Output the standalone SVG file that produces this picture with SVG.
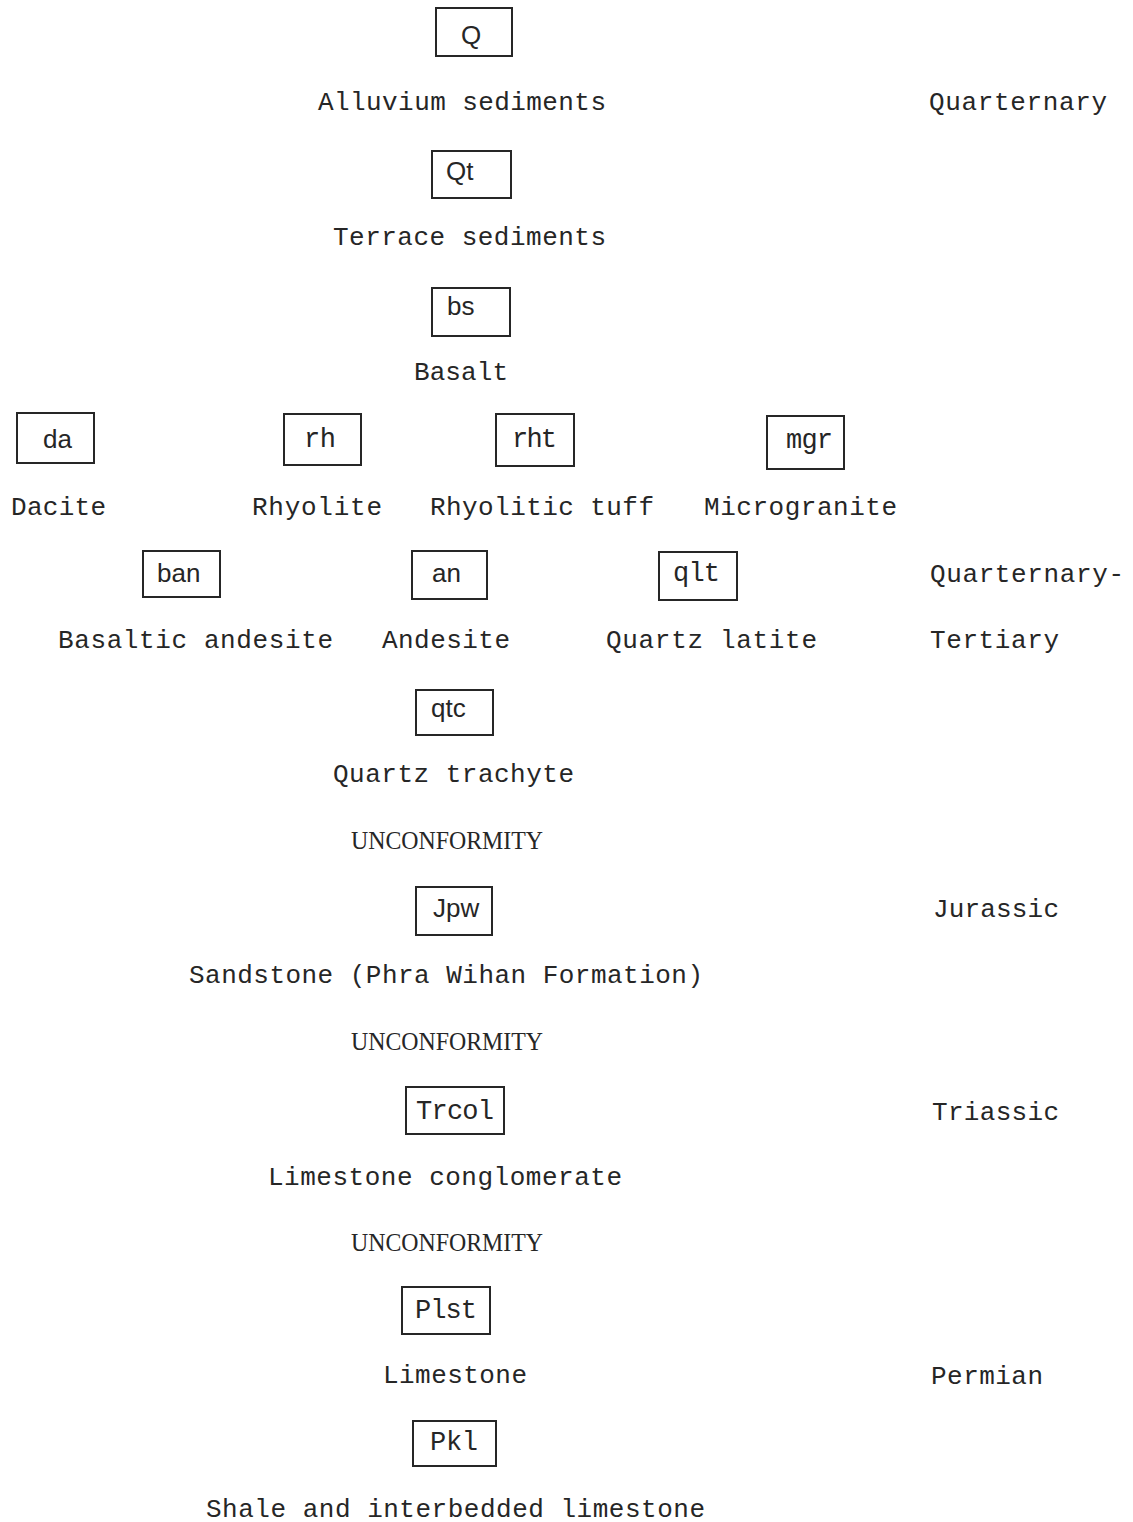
<svg xmlns="http://www.w3.org/2000/svg" width="1133" height="1522" viewBox="0 0 1133 1522">
<style>
.bg{fill:#ffffff}
.box{fill:none;stroke:#262626;stroke-width:2}
.t{font-family:"Liberation Mono","DejaVu Sans Mono",monospace;font-size:26px;fill:#262626}
.c{font-family:"Liberation Sans","DejaVu Sans",sans-serif;font-size:26px;fill:#262626}
.cm{font-family:"Liberation Mono","DejaVu Sans Mono",monospace;font-size:27px;fill:#262626}
.u{font-family:"Liberation Serif","DejaVu Serif",serif;font-size:26px;fill:#262626}
</style>
<rect class="bg" x="0" y="0" width="1133" height="1522"/>
<g id="node-Q"><rect class="box" x="436" y="8" width="76" height="48"/><text class="c" x="461" y="44">Q</text><text class="t" x="318" y="110" textLength="288" lengthAdjust="spacing">Alluvium sediments</text></g>
<g id="age-quarternary"><text class="t" x="929" y="110" textLength="178" lengthAdjust="spacing">Quarternary</text></g>
<g id="node-Qt"><rect class="box" x="432" y="151" width="79" height="47"/><text class="c" x="446" y="180">Qt</text><text class="t" x="333" y="245" textLength="273" lengthAdjust="spacing">Terrace sediments</text></g>
<g id="node-bs"><rect class="box" x="432" y="288" width="78" height="48"/><text class="c" x="447" y="315">bs</text><text class="t" x="414" y="380" textLength="94" lengthAdjust="spacing">Basalt</text></g>
<g id="node-da"><rect class="box" x="17" y="413" width="77" height="50"/><text class="c" x="43" y="448">da</text><text class="t" x="11" y="515" textLength="95" lengthAdjust="spacing">Dacite</text></g>
<g id="node-rh"><rect class="box" x="284" y="414" width="77" height="51"/><text class="cm" x="304" y="447" textLength="32" lengthAdjust="spacing">rh</text><text class="t" x="252" y="515" textLength="130" lengthAdjust="spacing">Rhyolite</text></g>
<g id="node-rht"><rect class="box" x="496" y="414" width="78" height="52"/><text class="cm" x="512" y="447" textLength="45" lengthAdjust="spacing">rht</text><text class="t" x="430" y="515" textLength="224" lengthAdjust="spacing">Rhyolitic tuff</text></g>
<g id="node-mgr"><rect class="box" x="767" y="416" width="77" height="53"/><text class="cm" x="786" y="448" textLength="47" lengthAdjust="spacing">mgr</text><text class="t" x="704" y="515" textLength="193" lengthAdjust="spacing">Microgranite</text></g>
<g id="node-ban"><rect class="box" x="143" y="551" width="77" height="46"/><text class="c" x="157" y="582">ban</text><text class="t" x="58" y="648" textLength="275" lengthAdjust="spacing">Basaltic andesite</text></g>
<g id="node-an"><rect class="box" x="412" y="551" width="75" height="48"/><text class="c" x="432" y="582">an</text><text class="t" x="382" y="648" textLength="128" lengthAdjust="spacing">Andesite</text></g>
<g id="node-qlt"><rect class="box" x="659" y="552" width="78" height="48"/><text class="cm" x="673" y="581" textLength="47" lengthAdjust="spacing">qlt</text><text class="t" x="606" y="648" textLength="211" lengthAdjust="spacing">Quartz latite</text></g>
<g id="age-quarternary-tertiary"><text class="t" x="930" y="582" textLength="194" lengthAdjust="spacing">Quarternary-</text><text class="t" x="930" y="648" textLength="129" lengthAdjust="spacing">Tertiary</text></g>
<g id="node-qtc"><rect class="box" x="416" y="690" width="77" height="45"/><text class="c" x="431" y="717">qtc</text><text class="t" x="333" y="782" textLength="241" lengthAdjust="spacing">Quartz trachyte</text></g>
<g id="unconformity-1"><text class="u" x="351" y="849" textLength="192" lengthAdjust="spacingAndGlyphs">UNCONFORMITY</text></g>
<g id="node-Jpw"><rect class="box" x="416" y="887" width="76" height="48"/><text class="c" x="433" y="917">Jpw</text><text class="t" x="189" y="983" textLength="514" lengthAdjust="spacing">Sandstone (Phra Wihan Formation)</text></g>
<g id="age-jurassic"><text class="t" x="933" y="917" textLength="126" lengthAdjust="spacing">Jurassic</text></g>
<g id="unconformity-2"><text class="u" x="351" y="1050" textLength="192" lengthAdjust="spacingAndGlyphs">UNCONFORMITY</text></g>
<g id="node-Trcol"><rect class="box" x="406" y="1087" width="98" height="47"/><text class="cm" x="416" y="1119" textLength="78" lengthAdjust="spacing">Trcol</text><text class="t" x="268" y="1185" textLength="354" lengthAdjust="spacing">Limestone conglomerate</text></g>
<g id="age-triassic"><text class="t" x="932" y="1120" textLength="127" lengthAdjust="spacing">Triassic</text></g>
<g id="unconformity-3"><text class="u" x="351" y="1251" textLength="192" lengthAdjust="spacingAndGlyphs">UNCONFORMITY</text></g>
<g id="node-Plst"><rect class="box" x="402" y="1287" width="88" height="47"/><text class="cm" x="415" y="1318" textLength="62" lengthAdjust="spacing">Plst</text><text class="t" x="383" y="1383" textLength="144" lengthAdjust="spacing">Limestone</text></g>
<g id="age-permian"><text class="t" x="931" y="1384" textLength="112" lengthAdjust="spacing">Permian</text></g>
<g id="node-Pkl"><rect class="box" x="413" y="1421" width="83" height="45"/><text class="cm" x="430" y="1450" textLength="48" lengthAdjust="spacing">Pkl</text><text class="t" x="206" y="1517" textLength="499" lengthAdjust="spacing">Shale and interbedded limestone</text></g>
<g id="connectors"></g>
</svg>
